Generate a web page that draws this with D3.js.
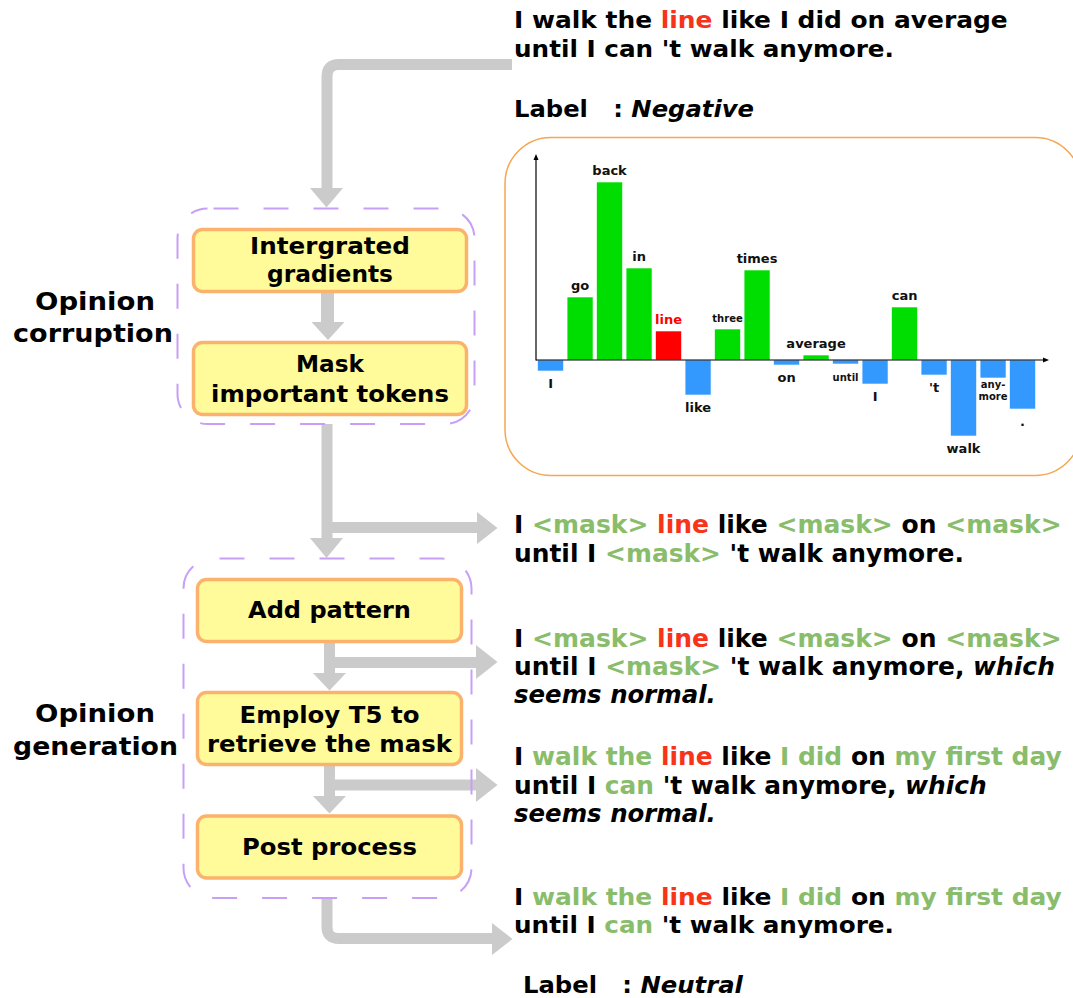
<!DOCTYPE html>
<html>
<head>
<meta charset="utf-8">
<script src="https://cdn.jsdelivr.net/npm/d3@7"></script>
<style>
  html, body { margin: 0; padding: 0; background: #ffffff; }
  svg { display: block; font-family: "DejaVu Sans", Verdana, sans-serif; font-weight: bold; }
  text { white-space: pre; }
</style>
</head>
<body>
<svg id="fig" width="1073" height="998"></svg>
<script>
// ---------------- data ----------------
const tokens = ["I", "go", "back", "in", "line", "like", "three", "times", "on", "average",
                "until", "I", "can", "'t", "walk", "any-more", "."];
const attributions = [-0.11, 0.63, 1.78, 0.92, 0.29, -0.35, 0.31, 0.90, -0.05, 0.05,
                      -0.04, -0.24, 0.53, -0.15, -0.76, -0.18, -0.49];
const targetToken = "line";

const stepsCorruption = [["Intergrated", "gradients"], ["Mask", "important tokens"]];
const stepsGeneration = [["Add pattern"], ["Employ T5 to", "retrieve the mask"], ["Post process"]];
const stageNames = [["Opinion", "corruption"], ["Opinion", "generation"]];

// sentence segments: [text, kind]  k = plain, r = target word, g = masked / generated, i = pattern
const sentOriginal = [
  [["I walk the ", "k"], ["line", "r"], [" like I did on average", "k"]],
  [["until I can 't walk anymore.", "k"]]
];
const labelOriginal = [["Label   : ", "k"], ["Negative", "i"]];
const sentMasked = [
  [["I ", "k"], ["<mask>", "g"], [" ", "k"], ["line", "r"], [" like ", "k"], ["<mask>", "g"], [" on ", "k"], ["<mask>", "g"]],
  [["until I ", "k"], ["<mask>", "g"], [" 't walk anymore.", "k"]]
];
const sentPattern = [
  [["I ", "k"], ["<mask>", "g"], [" ", "k"], ["line", "r"], [" like ", "k"], ["<mask>", "g"], [" on ", "k"], ["<mask>", "g"]],
  [["until I ", "k"], ["<mask>", "g"], [" 't walk anymore, ", "k"], ["which", "i"]],
  [["seems normal.", "i"]]
];
const sentFilled = [
  [["I ", "k"], ["walk the ", "g"], ["line", "r"], [" like ", "k"], ["I did", "g"], [" on ", "k"], ["my first day", "g"]],
  [["until I ", "k"], ["can", "g"], [" 't walk anymore, ", "k"], ["which", "i"]],
  [["seems normal.", "i"]]
];
const sentFinal = [
  [["I ", "k"], ["walk the ", "g"], ["line", "r"], [" like ", "k"], ["I did", "g"], [" on ", "k"], ["my first day", "g"]],
  [["until I ", "k"], ["can", "g"], [" 't walk anymore.", "k"]]
];
const labelFinal = [["Label   : ", "k"], ["Neutral", "i"]];

// ---------------- styles ----------------
const kindColor = { k: "#000000", r: "#f7331a", g: "#89bd6c", i: "#000000" };
const ARROW = "#cbcbcb";
const svg = d3.select("#fig");
svg.append("rect").attr("width", 1073).attr("height", 998).attr("fill", "#ffffff");

function textLine(parent, x, y, segs, size, width, anchor) {
  const g = parent.append("g").attr("transform", `translate(${x},${y})`);
  const t = g.append("text")
    .attr("font-size", size)
    .attr("text-anchor", anchor || "start")
    .attr("xml:space", "preserve");
  segs.forEach(([s, k]) => {
    t.append("tspan").text(s)
      .attr("fill", kindColor[k])
      .attr("font-style", k === "i" ? "italic" : "normal");
  });
  if (width) {
    const w = t.node().getComputedTextLength();
    if (w > 0) g.attr("transform", `translate(${x},${y}) scale(${width / w},1)`);
  }
  return g;
}

// ---------------- arrows (behind) ----------------
const arrows = svg.append("g");
function shaft(d, w) {
  arrows.append("path").attr("d", d).attr("fill", "none")
    .attr("stroke", ARROW).attr("stroke-width", w || 11);
}
function head(pts) {
  arrows.append("polygon").attr("points", pts.map(p => p.join(",")).join(" ")).attr("fill", ARROW);
}
shaft("M512,64.5 H339 Q327,64.5 327,76.5 V189");
head([[310, 188], [343, 188], [326.5, 207.5]]);
shaft("M327.5,290 V323", 13);
head([[311.5, 322], [344.5, 322], [328, 340]]);
shaft("M327,424 V539");
head([[310, 538], [343, 538], [326.5, 558]]);
shaft("M327,527.5 H478");
head([[477, 512], [477, 544], [497.5, 528]]);
shaft("M329.5,640 V674");
head([[313, 673], [346, 673], [329.5, 690.5]]);
shaft("M329.5,662.5 H477");
head([[476, 645], [476, 679], [497.5, 662]]);
shaft("M329.5,763 V797");
head([[313, 796], [346, 796], [329.5, 813.5]]);
shaft("M329.5,785 H477");
head([[476, 768], [476, 802], [497.5, 785]]);
shaft("M327,898 V927 Q327,938.5 339,938.5 H493");
head([[492, 923], [492, 955], [512.5, 939]]);

// ---------------- dashed stage frames ----------------
const frames = svg.append("g");
frames.append("rect").attr("x", 177.5).attr("y", 208.5).attr("width", 297).attr("height", 215.5)
  .attr("rx", 30).attr("fill", "none").attr("stroke", "#c79ff6").attr("stroke-width", 2)
  .attr("stroke-dasharray", "25,25").attr("stroke-dashoffset", -6);
frames.append("rect").attr("x", 183.5).attr("y", 558.5).attr("width", 288).attr("height", 339.5)
  .attr("rx", 30).attr("fill", "none").attr("stroke", "#c79ff6").attr("stroke-width", 2)
  .attr("stroke-dasharray", "25,25").attr("stroke-dashoffset", -6);

// ---------------- step boxes ----------------
const boxes = svg.append("g");
function stepBox(x, y, w, h, lines, baselines, widths, size) {
  boxes.append("rect").attr("x", x).attr("y", y).attr("width", w).attr("height", h)
    .attr("rx", 9).attr("fill", "#fffb9b").attr("stroke", "#fbb26c").attr("stroke-width", 3.5);
  lines.forEach((ln, i) => textLine(boxes, x + w / 2, baselines[i], [[ln, "k"]], size, widths[i], "middle"));
}
stepBox(193.5, 229.5, 273, 62, stepsCorruption[0], [254, 282], [160, 126], 23);
stepBox(193.5, 342.5, 273, 72, stepsCorruption[1], [372, 402], [68, 238], 23);
stepBox(197.5, 579.5, 264, 62, stepsGeneration[0], [618], [163], 23);
stepBox(197.5, 692.5, 264, 72, stepsGeneration[1], [723, 752], [180, 245], 23);
stepBox(197.5, 816, 264, 62, stepsGeneration[2], [855], [175], 23);

// ---------------- stage names ----------------
textLine(svg, 95, 310, [[stageNames[0][0], "k"]], 25, 120, "middle");
textLine(svg, 93, 342, [[stageNames[0][1], "k"]], 25, 160, "middle");
textLine(svg, 95, 722, [[stageNames[1][0], "k"]], 25, 120, "middle");
textLine(svg, 95.5, 755, [[stageNames[1][1], "k"]], 25, 165, "middle");

// ---------------- sentences ----------------
function block(sent, baselines, widths, size) {
  sent.forEach((segs, i) => textLine(svg, 514, baselines[i], segs, size, widths[i]));
}
block(sentOriginal, [28, 57], [494, 380], 23);
textLine(svg, 514, 117, labelOriginal, 23, 240);
block(sentMasked, [533, 562], [548, 450], 24);
block(sentPattern, [647, 675, 703], [548, 541, 202], 24);
block(sentFilled, [765, 794, 822], [548, 473, 202], 24);
block(sentFinal, [905, 933], [548, 380], 23);
textLine(svg, 523, 993, labelFinal, 23, 220);

// ---------------- attribution chart ----------------
const chart = svg.append("g");
chart.append("rect").attr("x", 505).attr("y", 137.5).attr("width", 576).attr("height", 338)
  .attr("rx", 46).attr("fill", "#ffffff").attr("stroke", "#f6a650").attr("stroke-width", 1.5);

const x = d3.scaleBand().domain(d3.range(tokens.length)).range([535.8, 1037.3])
  .paddingInner(0.12).paddingOuter(0.06);
const y = d3.scaleLinear().domain([0, 1]).range([360, 260]);

chart.selectAll("rect.bar").data(attributions).join("rect").attr("class", "bar")
  .attr("x", (d, i) => x(i))
  .attr("width", x.bandwidth())
  .attr("y", d => y(Math.max(0, d)))
  .attr("height", d => Math.abs(y(d) - y(0)))
  .attr("fill", (d, i) => tokens[i] === targetToken ? "#ff0000" : (d >= 0 ? "#00dd00" : "#3399ff"))
  .attr("stroke", "#ffffff").attr("stroke-width", 0.6);

// axes
const yTop = y(2.05), xEnd = 1049;
const ax = chart.append("g").attr("stroke", "#000").attr("stroke-width", 1.2);
ax.append("line").attr("x1", 536).attr("x2", 536).attr("y1", y(0) + 0.5).attr("y2", yTop + 3);
ax.append("line").attr("x1", 536).attr("x2", xEnd - 3).attr("y1", y(0)).attr("y2", y(0));
chart.append("polygon").attr("points", `533.5,${yTop + 5} 538.5,${yTop + 5} 536,${yTop - 1}`).attr("fill", "#000");
chart.append("polygon").attr("points", `${xEnd - 6},${y(0) - 2.5} ${xEnd - 6},${y(0) + 2.5} ${xEnd},${y(0)}`).attr("fill", "#000");

// token labels
const smallIdx = new Set([6, 10, 15]);
tokens.forEach((tk, i) => {
  const v = attributions[i];
  const cx = x(i) + x.bandwidth() / 2;
  const fs = smallIdx.has(i) ? 10 : 13;
  const col = tk === targetToken ? "#ff0000" : "#111111";
  const parts = tk.includes("-") ? [tk.slice(0, tk.indexOf("-") + 1), tk.slice(tk.indexOf("-") + 1)] : [tk];
  parts.forEach((p, j) => {
    let by;
    if (v >= 0) by = y(v) - 7 - (parts.length - 1 - j) * 11;
    else by = y(v) + (parts.length > 1 ? 10 : 17) + j * 11.5;
    chart.append("text").attr("x", cx).attr("y", by).attr("text-anchor", "middle")
      .attr("font-size", fs).attr("fill", col).text(p);
  });
});
</script>
</body>
</html>
